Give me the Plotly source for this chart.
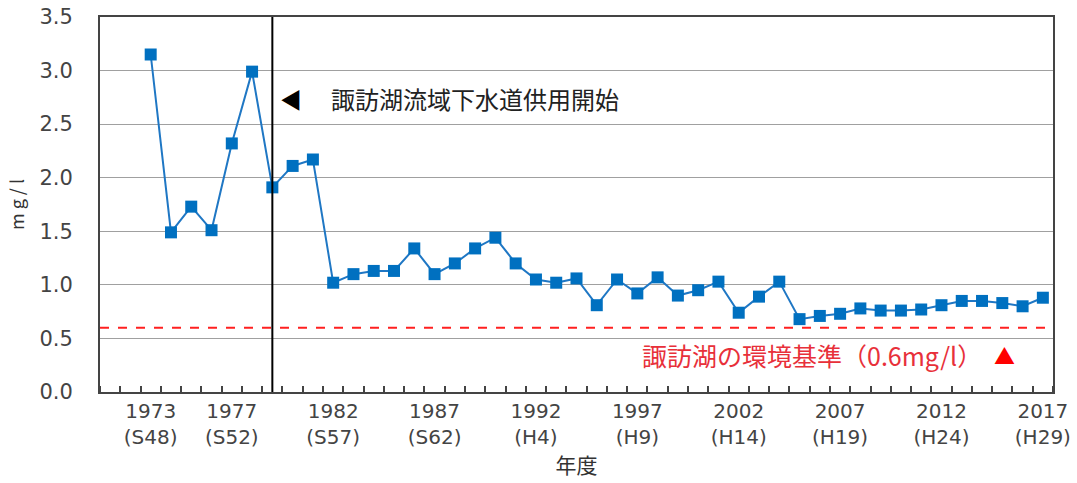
import plotly.graph_objects as go

years = list(range(1973, 2018))
values = [3.15, 1.49, 1.73, 1.51, 2.32, 2.99, 1.91, 2.11, 2.17, 1.02,
          1.10, 1.13, 1.13, 1.34, 1.10, 1.20, 1.34, 1.44, 1.20, 1.05,
          1.02, 1.06, 0.81, 1.05, 0.92, 1.07, 0.90, 0.95, 1.03, 0.74,
          0.89, 1.03, 0.68, 0.71, 0.73, 0.78, 0.76, 0.76, 0.77, 0.81,
          0.85, 0.85, 0.83, 0.80, 0.88]
tick_years = [1973, 1977, 1982, 1987, 1992, 1997, 2002, 2007, 2012, 2017]
tick_text = ["1973<br>(S48)", "1977<br>(S52)", "1982<br>(S57)", "1987<br>(S62)",
             "1992<br>(H4)", "1997<br>(H9)", "2002<br>(H14)", "2007<br>(H19)",
             "2012<br>(H24)", "2017<br>(H29)"]
y_ticks = [0.0, 0.5, 1.0, 1.5, 2.0, 2.5, 3.0, 3.5]
standard = 0.6
sewer_year = 1979

FONT = "Noto Sans CJK JP, Noto Sans, sans-serif"
NUMFONT = "DejaVu Sans, sans-serif"

fig = go.Figure()
fig.add_trace(go.Scatter(
    x=years, y=values, mode="lines+markers",
    line=dict(color="#1F77C4", width=2),
    marker=dict(symbol="square", size=12, color="#0070C0"),
    showlegend=False, cliponaxis=False,
))

fig.add_shape(type="line", xref="x", yref="paper", x0=sewer_year, x1=sewer_year,
              y0=0, y1=1, line=dict(color="black", width=2))
fig.add_shape(type="line", xref="paper", yref="y", x0=0, x1=1, y0=standard, y1=standard,
              line=dict(color="#FF2020", width=2, dash="dash"))

fig.add_annotation(x=1979.9, y=2.74, text="◀", showarrow=False,
                   font=dict(size=22, color="black", family=FONT))
fig.add_annotation(x=1981.8, y=2.74, text="諏訪湖流域下水道供用開始", showarrow=False,
                   xanchor="left", font=dict(size=24, color="#222", family=FONT))
fig.add_annotation(x=2005.6, y=0.35, text="諏訪湖の環境基準（0.6mg/l）", showarrow=False,
                   font=dict(size=25, color="#E8303A", family=FONT))
fig.add_annotation(x=2015.1, y=0.35, text="▲", showarrow=False,
                   font=dict(size=21, color="#FF0000", family=FONT))

fig.update_layout(
    width=1077, height=483,
    margin=dict(l=100, r=24, t=17, b=91),
    paper_bgcolor="white", plot_bgcolor="white",
    font=dict(family=FONT, color="#333"),
    xaxis=dict(
        range=[1970.5, 2017.5], tickvals=tick_years, ticktext=tick_text,
        ticks="", showgrid=False, zeroline=False, automargin=False,
        ticklabeloverflow="allow",
        showline=True, linecolor="#444", linewidth=2, mirror=True,
        tickfont=dict(size=20, color="#444", family=NUMFONT),
        minor=dict(ticks="inside", tick0=1970.5, dtick=1, ticklen=6,
                   tickcolor="#444", tickwidth=1.5, showgrid=False),
        title=dict(text="年度", font=dict(size=21, color="#333"), standoff=7),
    ),
    yaxis=dict(
        range=[0, 3.5], tickvals=y_ticks, tickformat=".1f",
        showgrid=True, gridcolor="#A0A0A0", gridwidth=1.2, zeroline=False,
        automargin=False, ticklabeloverflow="allow",
        showline=True, linecolor="#444", linewidth=2, mirror=True,
        ticks="", ticklabelstandoff=21,
        tickfont=dict(size=21, color="#444", family=NUMFONT),
        title=dict(text="m g / l", font=dict(size=18, color="#333"), standoff=10),
    ),
)

fig.write_html("out.html", config={"displayModeBar": False},
               post_script="document.body.style.margin='0';")
